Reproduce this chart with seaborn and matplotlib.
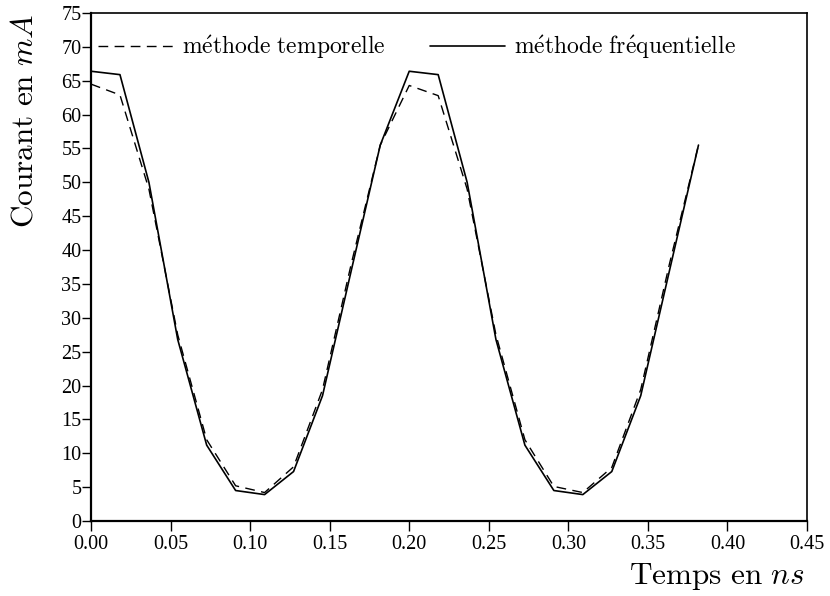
import matplotlib
matplotlib.use("Agg")
import matplotlib.pyplot as plt
import seaborn as sns
import pandas as pd

# Time points (ns)
temps = [0.0, 0.0182, 0.0364, 0.0545, 0.0727, 0.0909, 0.1091, 0.1273, 0.1455,
         0.1636, 0.1818, 0.2, 0.2182, 0.2364, 0.2545, 0.2727, 0.2909, 0.3091,
         0.3273, 0.3455, 0.3636, 0.3818]
# Current (mA) - frequency method (solid)
frequentielle = [66.4, 65.9, 50.0, 26.8, 11.2, 4.5, 3.9, 7.3, 18.5, 37.0, 55.5,
                 66.4, 65.9, 50.0, 26.8, 11.2, 4.5, 3.9, 7.3, 18.5, 37.0, 55.5]
# Current (mA) - time method (dashed)
temporelle = [64.5, 62.9, 49.0, 27.5, 12.0, 5.2, 4.2, 8.0, 19.4, 38.0, 55.5,
              64.3, 62.8, 49.0, 27.5, 12.0, 5.1, 4.2, 7.9, 19.4, 38.0, 55.5]

xticks = [0.0, 0.05, 0.10, 0.15, 0.20, 0.25, 0.30, 0.35, 0.40, 0.45]
yticks = list(range(0, 80, 5))

df = pd.DataFrame({"t": temps, "freq": frequentielle, "temp": temporelle})

sns.set_theme(style="white")
plt.rcParams["mathtext.fontset"] = "cm"
plt.rcParams["font.family"] = ["Liberation Serif", "DejaVu Serif"]

fig = plt.figure(figsize=(8.3, 5.96), dpi=100)
ax = fig.add_axes([91 / 830, (596 - 521) / 596, 716 / 830, 508 / 596])

sns.lineplot(data=df, x="t", y="temp", ax=ax, color="black", linewidth=1.0,
             dashes=False, label=r"$\mathrm{m\acute{e}thode\ temporelle}$")
ax.lines[-1].set_dashes((7.0, 4.6))
sns.lineplot(data=df, x="t", y="freq", ax=ax, color="black", linewidth=1.2,
             label=r"$\mathrm{m\acute{e}thode\ fr\acute{e}quentielle}$")

ax.set_xlim(0, 0.45)
ax.set_ylim(0, 75)
ax.set_xticks(xticks)
ax.set_xticklabels([f"{v:.2f}" for v in xticks])
ax.set_yticks(yticks)
ax.set_yticklabels([str(v) for v in yticks])
ax.tick_params(axis="both", which="major", direction="out", length=6.5, width=1,
               color="black", labelsize=14.5, labelcolor="black", pad=0.5,
               bottom=True, left=True)
ax.tick_params(axis="x", length=7, pad=3)

for side in ["left", "right", "top", "bottom"]:
    ax.spines[side].set_visible(True)
    ax.spines[side].set_color("black")
    ax.spines[side].set_linewidth(1.2)
ax.spines["left"].set_linewidth(1.6)
ax.spines["bottom"].set_linewidth(1.6)

ax.set_xlabel(r"$\mathrm{Temps\ en}\ ns$", fontsize=22.5, color="black",
              va="center")
ax.set_ylabel(r"$\mathrm{Courant\ en}\ mA$", fontsize=22.5, color="black",
              va="center")
ax.xaxis.set_label_coords((717 - 91) / 716, (521 - 576) / 508)
ax.yaxis.set_label_coords((25 - 91) / 716, (521 - 121) / 508)

leg = ax.legend(loc="center left", bbox_to_anchor=(7 / 716, 1 - 34 / 508),
                ncol=2, frameon=False, fontsize=17, handlelength=3.2,
                handletextpad=0.34, columnspacing=1.9, borderpad=0,
                borderaxespad=0)
for t in leg.get_texts():
    t.set_color("black")

fig.savefig("out.png", dpi=100)
